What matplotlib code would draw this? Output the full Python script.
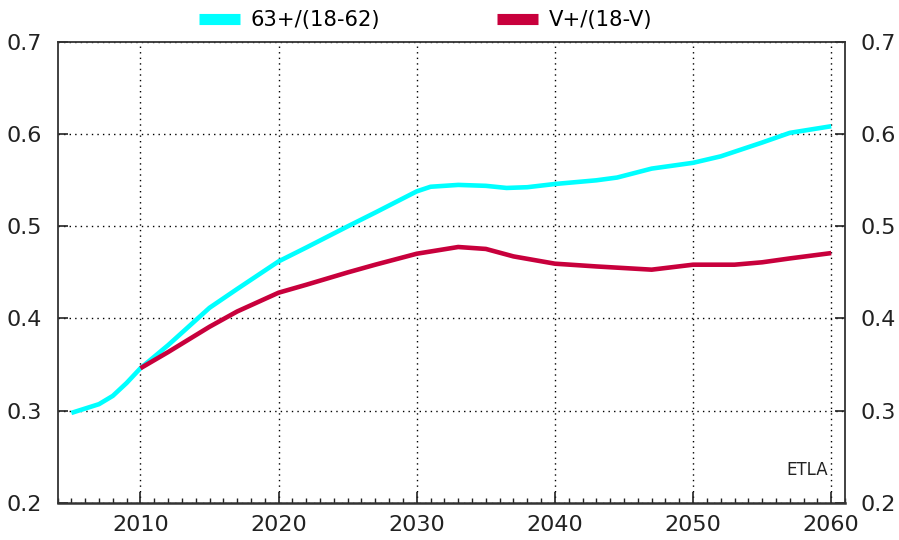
import matplotlib
matplotlib.use('Agg')
import matplotlib.pyplot as plt
from matplotlib.lines import Line2D
from matplotlib.ticker import MultipleLocator

# Datos
years_a = [2005, 2007, 2008, 2009, 2010, 2012, 2015, 2017, 2020, 2022, 2025, 2027, 2030,
           2031, 2033, 2035, 2036.5, 2038, 2040, 2043, 2044.5, 2047, 2050, 2052, 2055, 2057, 2060]
vals_a = [0.2975, 0.307, 0.316, 0.330, 0.346, 0.371, 0.4116, 0.432, 0.462, 0.477, 0.500, 0.515, 0.538,
          0.543, 0.545, 0.544, 0.5417, 0.5425, 0.546, 0.550, 0.553, 0.5627, 0.569, 0.576, 0.591, 0.6015, 0.6087]

years_b = [2010, 2012, 2015, 2017, 2020, 2022, 2025, 2027, 2030, 2033, 2035, 2037, 2040,
           2043, 2047, 2050, 2053, 2055, 2057, 2060]
vals_b = [0.346, 0.3635, 0.391, 0.4076, 0.428, 0.4366, 0.450, 0.4584, 0.4703, 0.4776, 0.4755, 0.4674, 0.4595,
          0.4565, 0.453, 0.4584, 0.4584, 0.461, 0.4652, 0.471]

labels = ['63+/(18-62)', 'V+/(18-V)']
colors = ['#00FFFF', '#C8003C']

fig = plt.figure(figsize=(8.99, 5.40), dpi=100)
ax = fig.add_axes([0.064, 0.069, 0.876, 0.853])

ax.plot(years_a, vals_a, color=colors[0], lw=3.3, solid_capstyle='butt')
ax.plot(years_b, vals_b, color=colors[1], lw=3.3, solid_capstyle='butt')

ax.set_xlim(2004, 2061)
ax.set_ylim(0.2, 0.7)
ax.xaxis.set_major_locator(MultipleLocator(10))
ax.xaxis.set_minor_locator(MultipleLocator(1))
ax.yaxis.set_major_locator(MultipleLocator(0.1))
ax.grid(True, which='major', color='black', linestyle=(0, (1, 3)), linewidth=1)

ax.tick_params(axis='x', which='major', direction='in', length=8, width=1.2, labelsize=16,
               pad=9, top=False, colors='#222222')
ax.tick_params(axis='x', which='minor', direction='in', length=3.5, width=1, top=False, colors='#222222')
ax.tick_params(axis='y', which='major', direction='in', length=7.5, width=1.2, labelsize=16,
               left=True, right=True, labelleft=True, labelright=True, pad=11, colors='#222222')

for s in ax.spines.values():
    s.set_color('#333333')
    s.set_linewidth(1.3)
ax.spines['bottom'].set_linewidth(1.8)

ax.text(2059.8, 0.226, 'ETLA', fontsize=12, ha='right', va='bottom', color='#222222')

handles = [Line2D([], [], color=c, lw=8, solid_capstyle='butt') for c in colors]
fig.legend(handles, labels, loc='center', bbox_to_anchor=(0.4735, 0.963), ncol=2, frameon=False,
           fontsize=15.2, handlelength=1.95, handletextpad=0.5, columnspacing=5.5)

plt.savefig('out.png', dpi=100)
